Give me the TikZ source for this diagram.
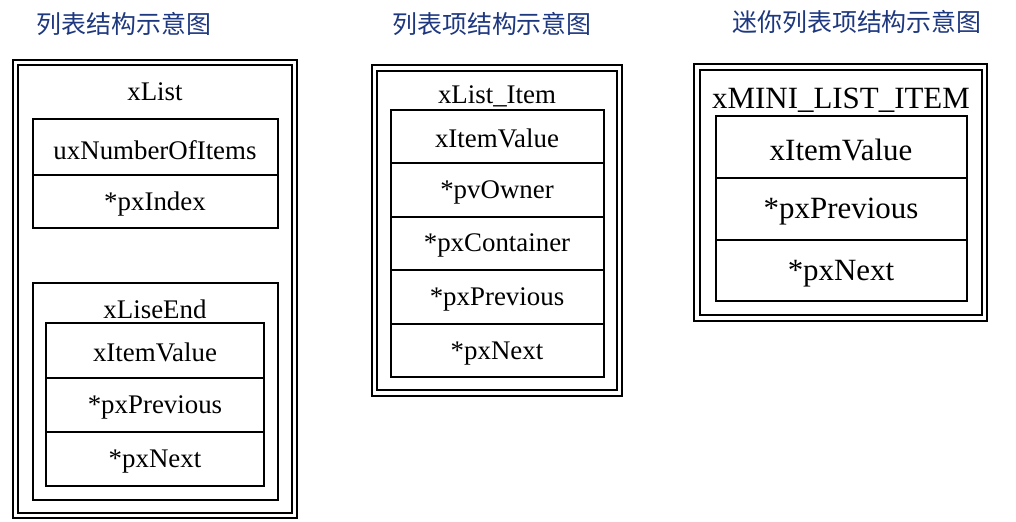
\documentclass[tikz,border=0pt]{standalone}
\usepackage{fontspec}
\setmainfont{Liberation Serif}
\newfontfamily\cjk{Noto Sans CJK SC}
\definecolor{headblue}{RGB}{30,56,128}
\tikzset{
  heading/.style={font=\cjk\fontsize{14.2}{16}\selectfont, text=headblue},
  field/.style={font=\fontsize{15.3}{17}\selectfont, yshift=-1.6pt},
  bigfield/.style={font=\fontsize{17.6}{20}\selectfont, yshift=-1.6pt},
  frame/.style={line width=1.1pt},
  cell/.style={line width=0.8pt},
}

\begin{document}
\begin{tikzpicture}[x=0.02cm,y=-0.02cm]

\useasboundingbox (0,0) rectangle (1016,521);

%% headings
\node [heading] (h1) at (124,24) {列表结构示意图};
\node [heading] (h2) at (492,24) {列表项结构示意图};
\node [heading] (h3) at (857,22) {迷你列表项结构示意图};

%% xList
\draw [frame] (13,60) rectangle (297,518);
\draw [frame] (18,65) rectangle (292,513);
\node [field] (xlist) at (155,89) {xList};
\draw [cell] (33,119) rectangle (278,228);
\draw [cell] (33,175) -- (278,175);
\node [field] (num) at (155,147) {uxNumberOfItems};
\node [field] (index) at (155,201) {*pxIndex};

%% xLiseEnd
\draw [cell] (33,283) rectangle (278,500);
\node [field] (liseend) at (155,306) {xLiseEnd};
\draw [cell] (46,323) rectangle (264,486);
\draw [cell] (46,378) -- (264,378);
\draw [cell] (46,432) -- (264,432);
\node [field] (endvalue) at (155,350) {xItemValue};
\node [field] (endprev) at (155,405) {*pxPrevious};
\node [field] (endnext) at (155,459) {*pxNext};

%% xList_Item
\draw [frame] (372,65) rectangle (622,396);
\draw [frame] (377,71) rectangle (617,390);
\node [field] (item) at (497,94) {xList\_Item};
\draw [cell] (391,110) rectangle (604,377);
\foreach \y in {163,217,270,324}
  \draw [cell] (391,\y) -- (604,\y);
\node [field] (value) at (497,136) {xItemValue};
\node [field] (owner) at (497,190) {*pvOwner};
\node [field] (container) at (497,243) {*pxContainer};
\node [field] (prev) at (497,297) {*pxPrevious};
\node [field] (next) at (497,351) {*pxNext};

%% xMINI_LIST_ITEM
\draw [frame] (694,64) rectangle (987,321);
\draw [frame] (700,70) rectangle (982,315);
\node [bigfield] (mini) at (841,97) {xMINI\_LIST\_ITEM};
\draw [cell] (716,116) rectangle (967,301);
\draw [cell] (716,178) -- (967,178);
\draw [cell] (716,240) -- (967,240);
\node [bigfield] (minivalue) at (841,147) {xItemValue};
\node [bigfield] (miniprev) at (841,209) {*pxPrevious};
\node [bigfield] (mininext) at (841,271) {*pxNext};

\end{tikzpicture}
\end{document}
